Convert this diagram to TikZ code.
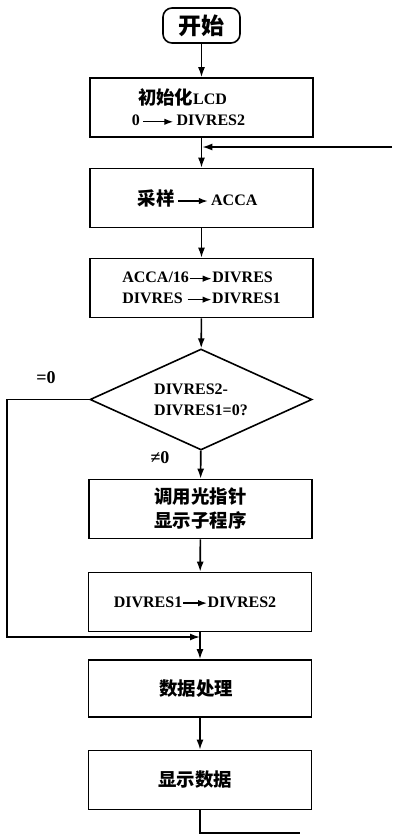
\documentclass[tikz,border=0pt]{standalone}
\usepackage{fontspec}
\setmainfont{Liberation Serif}
\newfontfamily\cjk[Scale=1.15]{Noto Sans CJK SC}
\usetikzlibrary{shapes.geometric,arrows.meta}
\newcommand{\toarr}[1][26pt]{\tikz[baseline=-0.55ex]\draw[line width=1.4pt,-{Latex[length=9pt,width=6.5pt]}] (0pt,0pt) -- (#1,0pt);}
\tikzset{
	procbox/.style={draw, line width=1.6pt, minimum width=223pt, minimum height=59pt, inner sep=0pt, align=center, font=\bfseries\fontsize{16}{21}\selectfont},
	startbox/.style={draw, line width=1.6pt, rounded corners=9pt, minimum width=77pt, minimum height=35pt, inner sep=0pt, font=\bfseries\fontsize{20}{24}\selectfont\cjk},
	testbox/.style={draw, diamond, aspect=2.2, line width=1.6pt, minimum width=222pt, minimum height=101pt, inner sep=0pt, align=left, font=\bfseries\fontsize{16}{21}\selectfont},
	lbl/.style={font=\bfseries\fontsize{18}{21}\selectfont},
	flow/.style={line width=1.6pt, -{Latex[length=10pt,width=7pt]}},
	wire/.style={line width=1.6pt},
}

\begin{document}
\begin{tikzpicture}[x=1pt, y=-1pt]
		%%%%% START %%%%%
		\useasboundingbox (0, 0) rectangle (392, 836);
		
		\node[startbox] (start) at (201.5, 25.5) {开始};
		\node[procbox] (init) at (201.5, 107.5) {{\cjk 初始化}LCD\rule{38pt}{0pt}\\0\,\toarr[30pt]\,DIVRES2\rule{26pt}{0pt}};
		\node[procbox] (samp) at (201.5, 198) {{\cjk 采样}\,\toarr[30pt]\,ACCA\rule{8pt}{0pt}};
		\node[procbox, align=left] (div) at (201.5, 288) {ACCA/16\toarr[22pt]DIVRES\\DIVRES \toarr[24pt]DIVRES1};
		\node[testbox] (cmp) at (201, 399.5) {DIVRES2-\\DIVRES1=0?};
		\node[procbox] (ptr) at (200.5, 509) {\cjk 调用光指针\\[3pt]\cjk 显示子程序};
		\node[procbox] (upd) at (200, 602) {DIVRES1\toarr[24pt]DIVRES2\rule{10pt}{0pt}};
		\node[procbox, minimum height=57pt] (proc) at (200, 688.5) {\cjk 数据处理\rule{8pt}{0pt}};
		\node[procbox] (disp) at (200, 780) {\cjk 显示数据\rule{10pt}{0pt}};
		
		\node[lbl] (lbleq) at (46, 378) {=0};
		\node[lbl] (lblne) at (160, 458) {≠0};
		
		\coordinate (back) at (392, 147);
		\coordinate (join) at (201.5, 147);
		\coordinate (skip) at (7, 637);
		\coordinate (merge) at (200, 637);
		\coordinate (tail) at (300, 833);
		
		\draw[flow] (start) -- (init);
		\draw[flow] (init) -- (samp);
		\draw[flow, shorten >=0.8pt] (back) -- (join);
		\draw[flow] (samp) -- (div);
		\draw[flow] (div) -- (cmp);
		\draw[flow] (cmp) -- (ptr);
		\draw[flow] (ptr) -- (upd);
		\draw[flow] (cmp.west) -| (skip) -- (merge);
		\draw[flow] (upd) -- (proc);
		\draw[flow] (proc) -- (disp);
		\draw[wire] (disp) |- (tail);
		
		%%%%% END %%%%%
	\end{tikzpicture}
\end{document}
